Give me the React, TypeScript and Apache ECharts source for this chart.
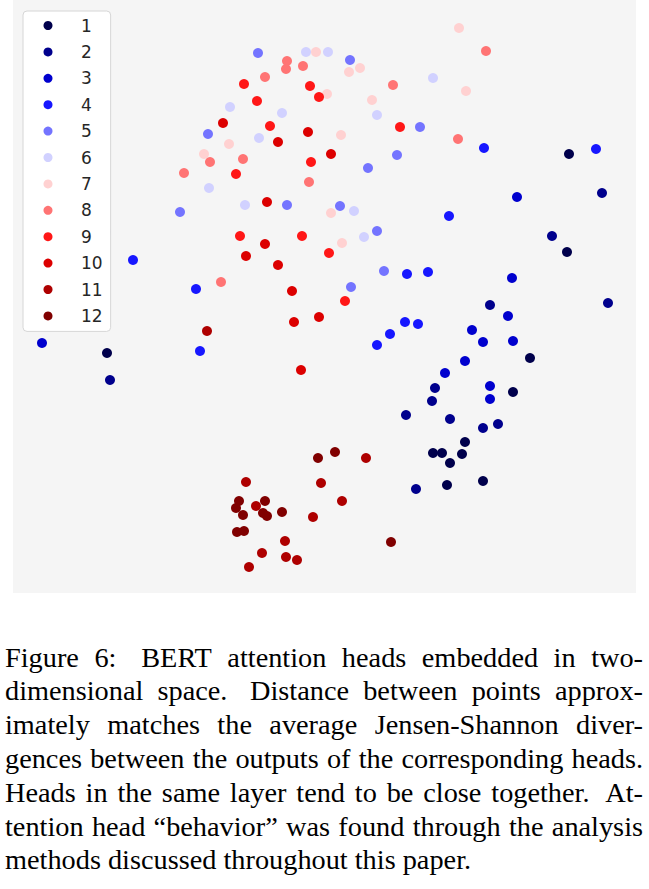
import React, { useEffect, useRef } from "react";
import * as echarts from "echarts";

// Layer names (legend) and seismic colormap colours
const layerNames = ["1", "2", "3", "4", "5", "6", "7", "8", "9", "10", "11", "12"];
const layerColors = [
  "#00004c", "#00008d", "#0000ce", "#1717ff", "#7474ff", "#d1d1ff",
  "#ffd1d1", "#ff7474", "#ff1717", "#dc0000", "#ae0000", "#800000",
];

// Embedded head positions per layer (x, y in embedding units, y grows downward)
const layer1 = [[569, 154], [567, 252], [107, 353], [530, 358], [513, 392], [465, 442], [433, 453], [442, 453], [462, 454], [450, 463], [447, 485], [483, 481]];
const layer2 = [[602, 193], [552, 236], [608, 303], [490, 305], [110, 380], [435, 388], [432, 401], [450, 419], [483, 428], [498, 424], [406, 415], [416, 489]];
const layer3 = [[517, 197], [512, 278], [508, 316], [472, 330], [483, 342], [513, 341], [465, 361], [445, 373], [490, 386], [490, 399], [42, 343]];
const layer4 = [[484, 148], [596, 149], [449, 216], [428, 272], [407, 274], [133, 260], [196, 289], [200, 351], [405, 322], [418, 324], [390, 334], [377, 345]];
const layer5 = [[208, 134], [258, 53], [350, 60], [420, 127], [397, 155], [368, 168], [180, 212], [287, 205], [340, 206], [377, 231], [384, 271], [351, 287]];
const layer6 = [[306, 52], [328, 52], [433, 78], [230, 107], [282, 113], [377, 115], [259, 138], [209, 188], [106, 232], [245, 205], [354, 211], [364, 237]];
const layer7 = [[316, 52], [349, 72], [360, 68], [327, 94], [372, 100], [341, 135], [229, 144], [204, 154], [459, 28], [466, 91], [331, 213], [342, 243]];
const layer8 = [[287, 61], [286, 69], [303, 66], [265, 77], [393, 85], [210, 162], [184, 173], [243, 159], [309, 182], [486, 51], [458, 139], [221, 282]];
const layer9 = [[244, 84], [310, 86], [319, 97], [257, 101], [270, 126], [400, 127], [311, 162], [236, 174], [240, 236], [302, 236], [329, 253], [345, 301]];
const layer10 = [[223, 123], [308, 132], [278, 142], [331, 154], [267, 202], [265, 244], [246, 256], [278, 265], [292, 291], [294, 322], [319, 317], [301, 370]];
const layer11 = [[207, 331], [366, 458], [246, 482], [321, 483], [256, 506], [342, 501], [313, 517], [285, 541], [262, 553], [286, 557], [297, 560], [249, 567]];
const layer12 = [[335, 452], [318, 458], [239, 501], [265, 501], [236, 508], [243, 515], [263, 513], [267, 516], [282, 512], [237, 532], [244, 531], [391, 542]];

const layers = [layer1, layer2, layer3, layer4, layer5, layer6, layer7, layer8, layer9, layer10, layer11, layer12];

const xRange = [13, 636];
const yRange = [0, 593];

const captionLines = [
  "Figure 6:  BERT attention heads embedded in two-",
  "dimensional space.  Distance between points approx-",
  "imately matches the average Jensen-Shannon diver-",
  "gences between the outputs of the corresponding heads.",
  "Heads in the same layer tend to be close together.  At-",
  "tention head \u201cbehavior\u201d was found through the analysis",
  "methods discussed throughout this paper.",
];

const CAP_FONT_SIZE = 28.3;
const CAP_FONT = "Liberation Serif";
const CAP_LEFT = 5;
const CAP_RIGHT = 643;
const CAP_TOP = 657;
const CAP_STEP = 33.8;

function buildCaption(): any[] {
  const canvas = document.createElement("canvas");
  const ctx = canvas.getContext("2d")!;
  ctx.font = `${CAP_FONT_SIZE}px "${CAP_FONT}"`;
  const spaceW = ctx.measureText(" ").width;
  const els: any[] = [];
  captionLines.forEach((line, li) => {
    const words = line.split(/ +/);
    const widths = words.map((w) => ctx.measureText(w).width);
    const total = widths.reduce((a, b) => a + b, 0);
    const weights = words.slice(0, -1).map((w) => (/[.:]$/.test(w) ? 1.6 : 1));
    const wsum = weights.reduce((a, b) => a + b, 0);
    const isLast = li === captionLines.length - 1;
    const avail = CAP_RIGHT - CAP_LEFT;
    const free = avail - total;
    // compress horizontally if a line would overflow with a minimal gap
    const minGap = spaceW * 0.6;
    let sx = 1;
    if (!isLast && free < minGap * wsum) {
      sx = (avail - minGap * wsum) / total;
    }
    const freeScaled = avail - total * sx;
    let x = CAP_LEFT;
    const y = CAP_TOP + li * CAP_STEP;
    words.forEach((w, i) => {
      els.push({
        type: "text",
        x,
        y,
        scaleX: sx,
        silent: true,
        style: {
          text: w,
          fontSize: CAP_FONT_SIZE,
          fontFamily: CAP_FONT,
          fill: "#000",
          align: "left",
          verticalAlign: "middle",
          textAlign: "left",
          textVerticalAlign: "middle",
        },
      });
      if (i < words.length - 1) {
        const gap = isLast ? spaceW * weights[i] : (freeScaled * weights[i]) / wsum;
        x += widths[i] * sx + gap;
      }
    });
  });
  return els;
}

export default function App() {
  const ref = useRef<HTMLDivElement>(null);
  useEffect(() => {
    document.body.style.margin = "0";
    if (!ref.current) return;
    const chart = echarts.init(ref.current, undefined, { renderer: "svg" });
    chart.setOption({
      animation: false,
      backgroundColor: "#ffffff",
      grid: {
        left: xRange[0],
        top: yRange[0],
        width: xRange[1] - xRange[0],
        height: yRange[1] - yRange[0],
        show: true,
        backgroundColor: "#f5f5f5",
        borderWidth: 0,
      },
      xAxis: { type: "value", min: xRange[0], max: xRange[1], show: false },
      yAxis: { type: "value", min: yRange[0], max: yRange[1], inverse: true, show: false },
      legend: {
        orient: "vertical",
        left: 23,
        top: 11,
        backgroundColor: "#ffffff",
        borderColor: "#d6d6d6",
        borderWidth: 1,
        borderRadius: 4,
        padding: [6, 8, 7, 20.5],
        itemWidth: 9,
        itemHeight: 9,
        itemGap: 9.4,
        icon: "circle",
        selectedMode: false,
        textStyle: { fontSize: 17, fontFamily: "DejaVu Sans", color: "#262626", padding: [0, 0, 0, 23.5] },
        data: layerNames,
      },
      series: layers.map((pts, i) => ({
        name: layerNames[i],
        type: "scatter",
        data: pts,
        symbolSize: 10,
        itemStyle: { color: layerColors[i], opacity: 1 },
        emphasis: { disabled: true },
        z: 2,
      })),
      graphic: buildCaption(),
    });
    return () => chart.dispose();
  }, []);
  return <div ref={ref} style={{ width: 649, height: 889 }} />;
}
